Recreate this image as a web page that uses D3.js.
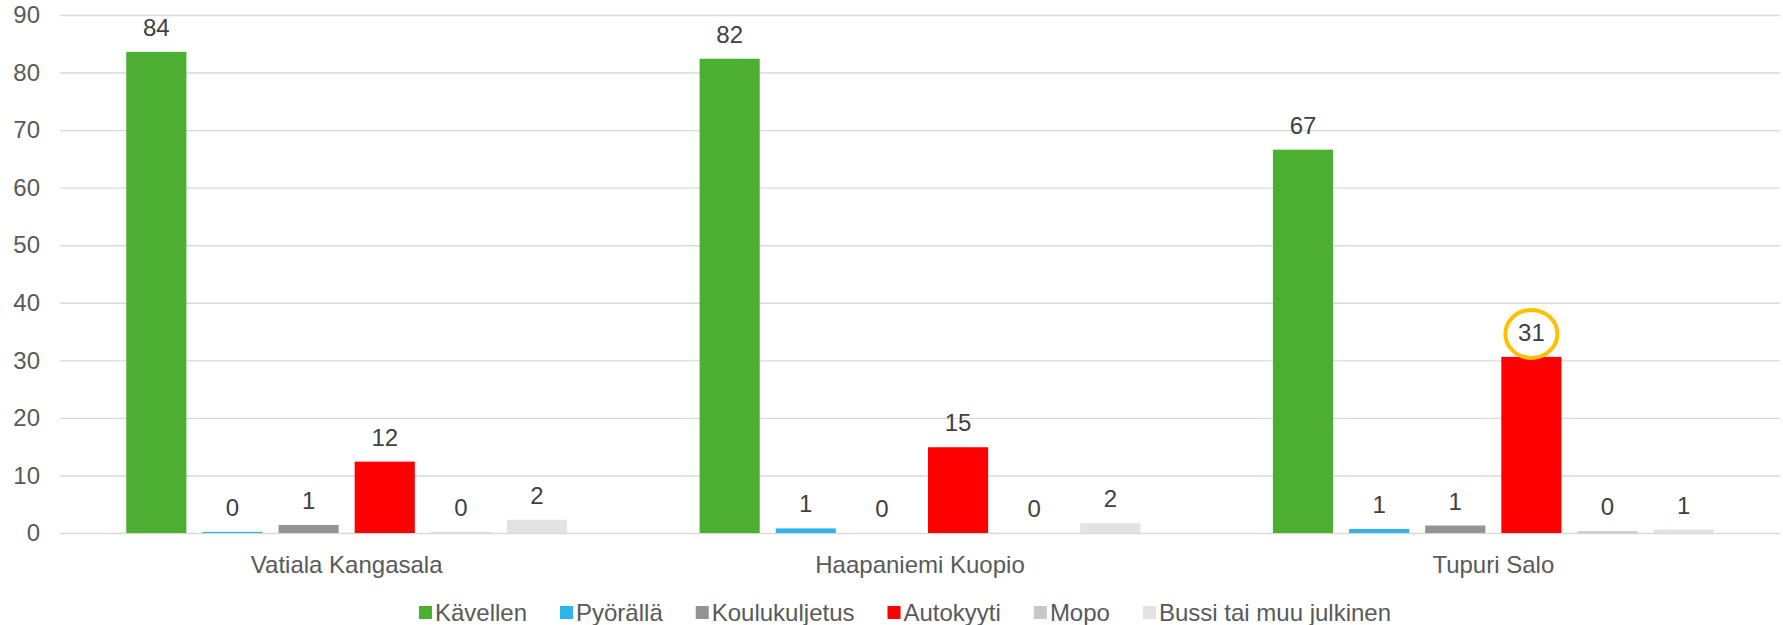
<!DOCTYPE html>
<html>
<head>
<meta charset="utf-8">
<script src="https://cdn.jsdelivr.net/npm/d3@7"></script>
<style>
  body { margin: 0; background: #fff; }
  text { font-family: "Liberation Sans", Arial, sans-serif; }
</style>
</head>
<body>
<div id="chart"></div>
<script>
// Chart data
var categories = ["Vatiala Kangasala", "Haapaniemi Kuopio", "Tupuri Salo"];
var seriesNames = ["Kävellen", "Pyörällä", "Koulukuljetus", "Autokyyti", "Mopo", "Bussi tai muu julkinen"];
var kavellen = [83.6, 82.4, 66.6];
var pyoralla = [0.2, 0.8, 0.7];
var koulukuljetus = [1.4, 0, 1.3];
var autokyyti = [12.4, 14.9, 30.6];
var mopo = [0.1, 0, 0.3];
var bussi = [2.3, 1.7, 0.6];
var yTicks = [0, 10, 20, 30, 40, 50, 60, 70, 80, 90];
var seriesColors = ["#4daf32", "#2fb4e9", "#939393", "#ff0000", "#c8c8c8", "#e3e3e3"];
// label that is circled in the original
var highlight = { category: "Tupuri Salo", series: "Autokyyti" };

var seriesValues = [kavellen, pyoralla, koulukuljetus, autokyyti, mopo, bussi];

// Set up the chart area
var svgWidth = 1783;
var svgHeight = 625;
var margin = { top: 15, right: 3, bottom: 92, left: 60 };
var width = svgWidth - margin.left - margin.right;
var height = svgHeight - margin.top - margin.bottom;
var fontSize = "24px";

var svg = d3.select("#chart")
  .append("svg")
  .attr("width", svgWidth)
  .attr("height", svgHeight);

var chartGroup = svg.append("g")
  .attr("transform", `translate(${margin.left}, ${margin.top})`);

// Scales
var x0 = d3.scaleBand()
  .domain(categories)
  .range([0, width])
  .padding(0);

var x1 = d3.scaleBand()
  .domain(seriesNames)
  .range([0, x0.bandwidth()])
  .paddingInner(0.21)
  .paddingOuter(0.87);

var yScale = d3.scaleLinear()
  .domain([0, 90])
  .range([height, 0]);

// Gridlines
var leftAxis = d3.axisLeft(yScale)
  .tickValues(yTicks)
  .tickSize(-width)
  .tickPadding(20)
  .tickFormat(d3.format("d"));

var yAxisG = chartGroup.append("g").call(leftAxis);
yAxisG.select(".domain").remove();
yAxisG.selectAll(".tick line")
  .attr("stroke", "#d9d9d9")
  .attr("stroke-width", 1.4);
yAxisG.selectAll(".tick text")
  .attr("fill", "#595959")
  .attr("font-size", fontSize)
  .attr("x", -20);

// Bars
var rows = [];
categories.forEach(function(cat, i) {
  seriesNames.forEach(function(name, j) {
    rows.push({ category: cat, series: name, value: seriesValues[j][i], color: seriesColors[j] });
  });
});

chartGroup.selectAll(".bar")
  .data(rows)
  .enter()
  .append("rect")
  .attr("class", "bar")
  .attr("x", function(d) { return x0(d.category) + x1(d.series); })
  .attr("y", function(d) { return yScale(d.value); })
  .attr("width", x1.bandwidth())
  .attr("height", function(d) { return height - yScale(d.value); })
  .attr("fill", function(d) { return d.color; });

// Data labels
chartGroup.selectAll(".label")
  .data(rows)
  .enter()
  .append("text")
  .attr("class", "label")
  .attr("x", function(d) { return x0(d.category) + x1(d.series) + x1.bandwidth() / 2; })
  .attr("y", function(d) { return yScale(d.value) - 16; })
  .attr("text-anchor", "middle")
  .attr("font-size", fontSize)
  .attr("fill", "#404040")
  .text(function(d) { return Math.round(d.value); });

// Circle round the highlighted label
var hl = rows.filter(function(d) { return d.category === highlight.category && d.series === highlight.series; })[0];
chartGroup.append("ellipse")
  .attr("cx", x0(hl.category) + x1(hl.series) + x1.bandwidth() / 2)
  .attr("cy", yScale(hl.value) - 23)
  .attr("rx", 26)
  .attr("ry", 24)
  .attr("fill", "none")
  .attr("stroke", "#ffc000")
  .attr("stroke-width", 4);

// Category labels
chartGroup.selectAll(".cat")
  .data(categories)
  .enter()
  .append("text")
  .attr("class", "cat")
  .attr("x", function(d) { return x0(d) + x0.bandwidth() / 2; })
  .attr("y", height + 40)
  .attr("text-anchor", "middle")
  .attr("font-size", fontSize)
  .attr("fill", "#595959")
  .text(function(d) { return d; });

// Legend
var legend = svg.append("g");
var lx = 0;
seriesNames.forEach(function(name, j) {
  var item = legend.append("g").attr("transform", `translate(${lx}, 0)`);
  item.append("rect")
    .attr("x", 0)
    .attr("y", -15)
    .attr("width", 13)
    .attr("height", 13)
    .attr("fill", seriesColors[j]);
  var t = item.append("text")
    .attr("x", 16)
    .attr("y", 0)
    .attr("font-size", fontSize)
    .attr("fill", "#595959")
    .text(name);
  lx += 16 + t.node().getComputedTextLength() + 33;
});
var legendWidth = lx - 33;
legend.attr("transform", `translate(${905 - legendWidth / 2}, 621)`);
</script>
</body>
</html>
